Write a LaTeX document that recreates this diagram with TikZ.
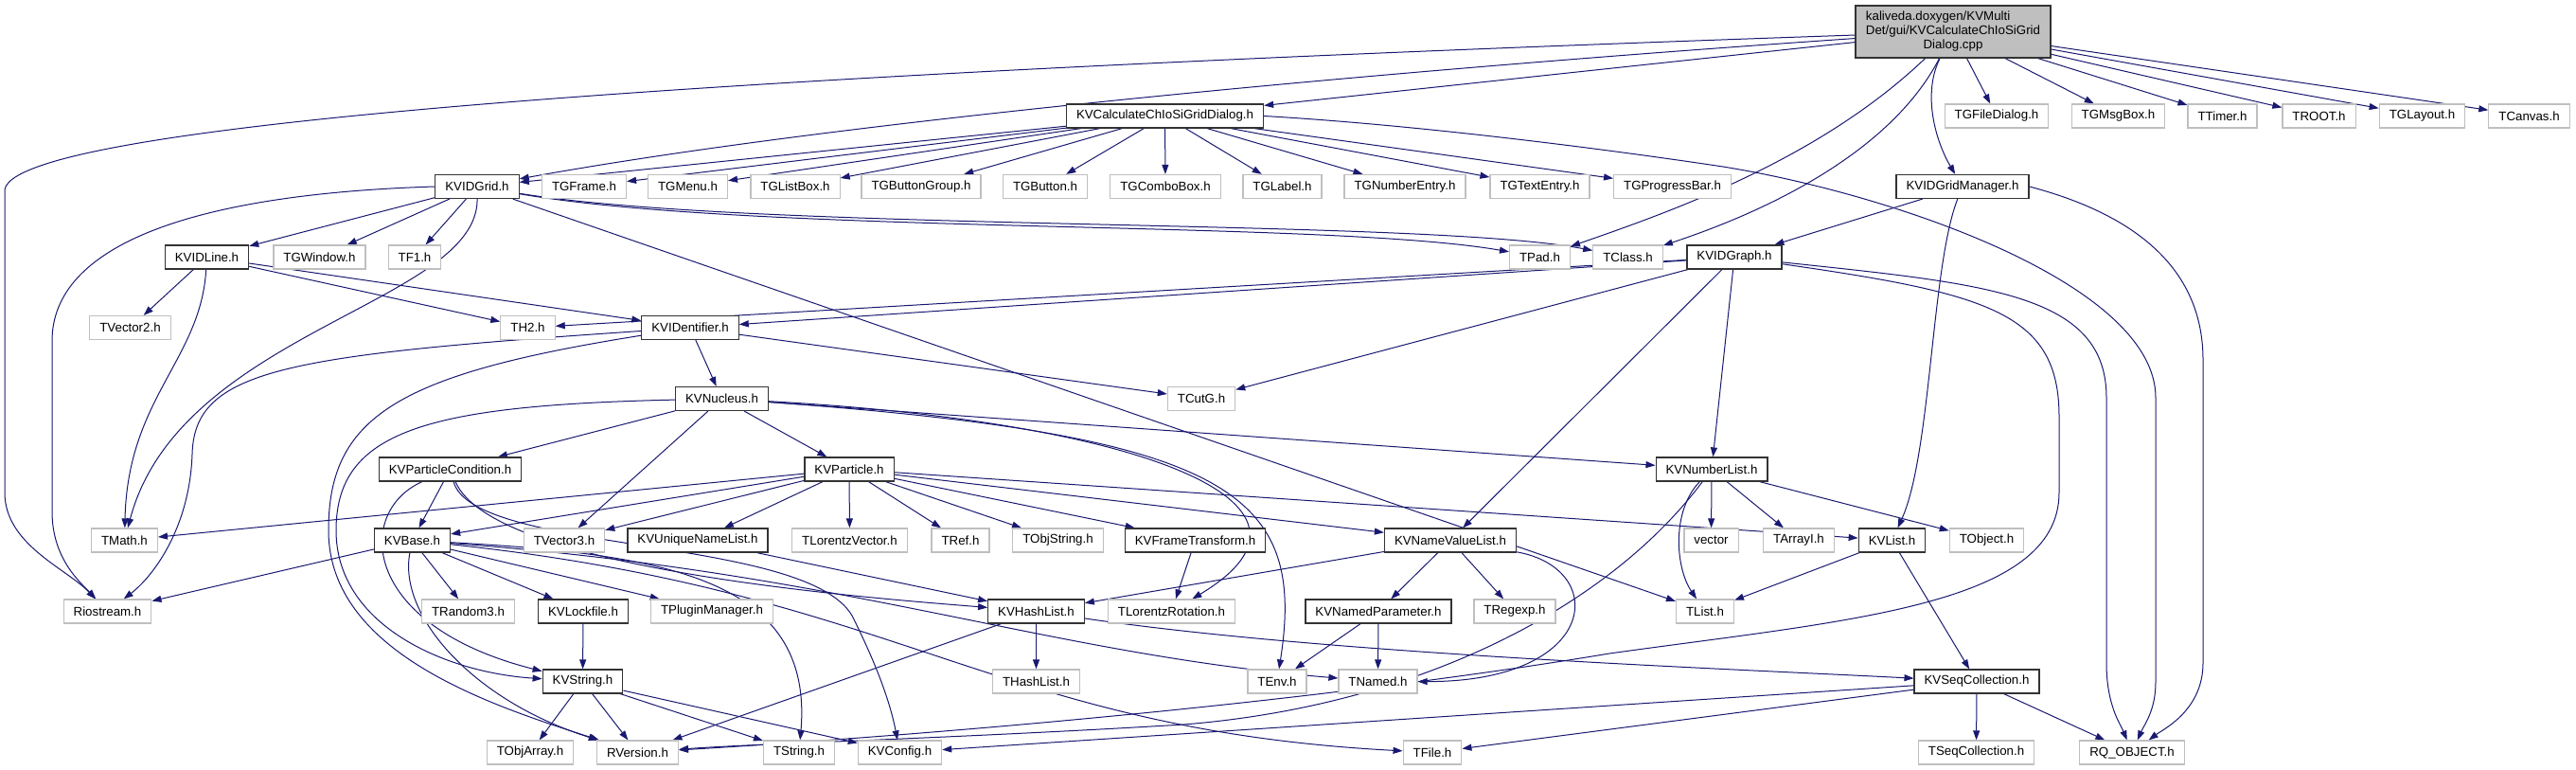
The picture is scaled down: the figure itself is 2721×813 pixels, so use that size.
\documentclass[tikz,border=0pt]{standalone}
\usepackage{fontspec}
\setmainfont{Liberation Sans}
\usetikzlibrary{arrows.meta,backgrounds}
\definecolor{edgeblue}{RGB}{25,25,112}
\definecolor{extgray}{RGB}{191,191,191}
\begin{document}
\begin{tikzpicture}[x=1pt,y=-1pt,>={Triangle[length=10pt,width=7pt]},
  every node/.style={font=\fontsize{13.3}{15}\selectfont,minimum height=25pt,
    inner xsep=10.5pt,inner ysep=0pt,line width=1.2pt,fill=white},
  kv/.style={draw=black!80},
  ext/.style={draw=extgray},
  dep/.style={->,draw=edgeblue,line width=1pt}]
  \useasboundingbox (0,0) rectangle (2721,813);
  % file and first level
  \node[kv,fill=extgray,minimum width=206pt,minimum height=55pt] (root) at (2063,33.5)
    {\begin{tabular}{@{}l@{}}kaliveda.doxygen/KVMulti\\Det/gui/KVCalculateChIoSiGrid\\\multicolumn{1}{@{}c@{}}{Dialog.cpp}\end{tabular}};
  \node[kv] (dialog) at (1230.5,122.5) {KVCalculateChIoSiGridDialog.h};
  \node[ext] (fdlg) at (2109,122.5) {TGFileDialog.h};
  \node[ext] (msgbox) at (2237.5,122.5) {TGMsgBox.h};
  \node[ext] (timer) at (2347.5,122.5) {TTimer.h};
  \node[ext] (troot) at (2449.5,122.5) {TROOT.h};
  \node[ext] (layout) at (2558.5,122.5) {TGLayout.h};
  \node[ext] (canvas) at (2671.5,122.5) {TCanvas.h};
  % second level
  \node[kv] (grid) at (504,197) {KVIDGrid.h};
  \node[ext] (frame) at (617,197) {TGFrame.h};
  \node[ext] (menu) at (726.5,197) {TGMenu.h};
  \node[ext] (listbox) at (840,197) {TGListBox.h};
  \node[ext] (btngrp) at (973,197) {TGButtonGroup.h};
  \node[ext] (button) at (1104,197) {TGButton.h};
  \node[ext] (combo) at (1231,197) {TGComboBox.h};
  \node[ext] (label) at (1354.5,197) {TGLabel.h};
  \node[ext] (numentry) at (1484,197) {TGNumberEntry.h};
  \node[ext] (textentry) at (1626.5,197) {TGTextEntry.h};
  \node[ext] (progress) at (1766.5,197) {TGProgressBar.h};
  \node[kv] (gridmgr) at (2073,197) {KVIDGridManager.h};
  \node[kv] (idline) at (218.5,271.5) {KVIDLine.h};
  \node[ext] (window) at (337.5,271.5) {TGWindow.h};
  \node[ext] (tfone) at (438,271.5) {TF1.h};
  \node[ext] (tpad) at (1626.5,271.5) {TPad.h};
  \node[ext] (tclass) at (1719.5,271.5) {TClass.h};
  \node[kv] (idgraph) at (1832,271.5) {KVIDGraph.h};
  \node[ext] (tvectwo) at (137.5,346) {TVector2.h};
  \node[ext] (thtwo) at (557.5,346) {TH2.h};
  \node[kv] (identifier) at (729,346) {KVIDentifier.h};
  \node[kv] (nucleus) at (762.5,421) {KVNucleus.h};
  \node[ext] (tcutg) at (1269,421) {TCutG.h};
  % particles and lists
  \node[kv] (pcond) at (475.5,495.5) {KVParticleCondition.h};
  \node[kv] (particle) at (897,495.5) {KVParticle.h};
  \node[kv] (numlist) at (1808,495.5) {KVNumberList.h};
  \node[ext] (tmath) at (131.5,570.5) {TMath.h};
  \node[kv] (kvbase) at (435.5,570.5) {KVBase.h};
  \node[ext] (tvecthree) at (596,570.5) {TVector3.h};
  \node[kv] (uniq) at (737,570.5) {KVUniqueNameList.h};
  \node[ext] (tlvec) at (897.5,570.5) {TLorentzVector.h};
  \node[ext] (tref) at (1014.5,570.5) {TRef.h};
  \node[ext] (tobjstr) at (1117.5,570.5) {TObjString.h};
  \node[kv] (frametr) at (1262.5,570.5) {KVFrameTransform.h};
  \node[kv] (namevalue) at (1532,570.5) {KVNameValueList.h};
  \node[ext] (vector) at (1807.5,570.5) {vector};
  \node[ext] (tarrayi) at (1900,570.5) {TArrayI.h};
  \node[kv] (kvlist) at (1998.5,570.5) {KVList.h};
  \node[ext] (tobject) at (2098.5,570.5) {TObject.h};
  \node[ext] (riostream) at (113.5,645.5) {Riostream.h};
  \node[ext] (trandom) at (494.5,645.5) {TRandom3.h};
  \node[kv] (lockfile) at (616,645.5) {KVLockfile.h};
  \node[ext] (plugin) at (752,645.5) {TPluginManager.h};
  \node[kv] (hashlist) at (1094.5,645.5) {KVHashList.h};
  \node[ext] (lrot) at (1237.5,645.5) {TLorentzRotation.h};
  \node[kv] (namedpar) at (1456,645.5) {KVNamedParameter.h};
  \node[ext] (tregexp) at (1600,645.5) {TRegexp.h};
  \node[ext] (tlist) at (1801,645.5) {TList.h};
  \node[kv] (kvstring) at (615.5,719.5) {KVString.h};
  \node[ext] (thashlist) at (1094.5,719.5) {THashList.h};
  \node[ext] (tenv) at (1349,719.5) {TEnv.h};
  \node[ext] (tnamed) at (1455.5,719.5) {TNamed.h};
  \node[kv] (seqcoll) at (2088,719.5) {KVSeqCollection.h};
  \node[ext] (tobjarray) at (560,794.5) {TObjArray.h};
  \node[ext] (rversion) at (673.5,794.5) {RVersion.h};
  \node[ext] (tstring) at (844,794.5) {TString.h};
  \node[ext] (kvconfig) at (950.5,794.5) {KVConfig.h};
  \node[ext] (tfile) at (1513,794.5) {TFile.h};
  \node[ext] (tseqcoll) at (2087.5,794.5) {TSeqCollection.h};
  \node[ext] (rqobject) at (2252,794.5) {RQ\_OBJECT.h};
  \begin{scope}[on background layer]
  % from the .cpp file
  \draw[dep] (root) .. controls (1000,70) and (20,120) .. (5,200) -- (5,520) .. controls (5,575) and (70,600) .. (riostream);
  \draw[dep] (root) -- (dialog);
  \draw[dep] (root) .. controls (1500,72) and (900,125) .. (grid);
  \draw[dep] (root) .. controls (1920,170) and (1760,225) .. (tpad);
  \draw[dep] (root) .. controls (1990,175) and (1830,235) .. (tclass);
  \draw[dep] (root) .. controls (2030,100) and (2045,150) .. (gridmgr);
  \draw[dep] (root) -- (fdlg);
  \draw[dep] (root) -- (msgbox);
  \draw[dep] (root) -- (timer);
  \draw[dep] (root) -- (troot);
  \draw[dep] (root) -- (layout);
  \draw[dep] (root) -- (canvas);
  % dialog header
  \draw[dep] (dialog) -- (grid);
  \draw[dep] (dialog) -- (frame);
  \draw[dep] (dialog) -- (menu);
  \draw[dep] (dialog) -- (listbox);
  \draw[dep] (dialog) -- (btngrp);
  \draw[dep] (dialog) -- (button);
  \draw[dep] (dialog) -- (combo);
  \draw[dep] (dialog) -- (label);
  \draw[dep] (dialog) -- (numentry);
  \draw[dep] (dialog) -- (textentry);
  \draw[dep] (dialog) -- (progress);
  \draw[dep] (dialog.east) .. controls (1500,132) and (1700,158) .. (1820,176) .. controls (2000,205) and (2277,300) .. (2277,420) -- (2277,720) .. controls (2277,750) and (2265,765) .. (rqobject);
  % grid manager
  \draw[dep] (gridmgr) -- (idgraph);
  \draw[dep] (gridmgr) .. controls (2040,280) and (2040,480) .. (kvlist);
  \draw[dep] (gridmgr.east) .. controls (2250,225) and (2327,280) .. (2327,380) -- (2327,700) .. controls (2327,750) and (2285,770) .. (rqobject);
  % grid
  \draw[dep] (grid) -- (idline);
  \draw[dep] (grid) -- (window);
  \draw[dep] (grid) -- (tfone);
  \draw[dep] (grid) .. controls (505,320) and (190,350) .. (tmath);
  \draw[dep] (grid.west) .. controls (200,205) and (55,260) .. (55,360) -- (55,540) .. controls (55,590) and (85,615) .. (riostream);
  \draw[dep] (grid) .. controls (800,248) and (1400,232) .. (tpad);
  \draw[dep] (grid) .. controls (800,245) and (1500,230) .. (tclass);
  \draw[dep] (grid) -- (tlist);
  % line
  \draw[dep] (idline) -- (tvectwo);
  \draw[dep] (idline) .. controls (212,380) and (135,420) .. (tmath);
  \draw[dep] (idline) -- (thtwo);
  \draw[dep] (idline) -- (identifier);
  % identifier
  \draw[dep] (identifier) -- (nucleus);
  \draw[dep] (identifier) -- (tcutg);
  \draw[dep] (identifier) .. controls (300,375) and (205,390) .. (203,480) .. controls (200,560) and (160,610) .. (riostream);
  \draw[dep] (identifier) .. controls (420,395) and (347,440) .. (347,560) .. controls (347,690) and (520,745) .. (rversion);
  % graph
  \draw[dep] (idgraph) -- (thtwo);
  \draw[dep] (idgraph) -- (identifier);
  \draw[dep] (idgraph) -- (tcutg);
  \draw[dep] (idgraph) -- (namevalue);
  \draw[dep] (idgraph) -- (numlist);
  \draw[dep] (idgraph) .. controls (2100,300) and (2225,310) .. (2225,420) -- (2225,700) .. controls (2225,745) and (2240,765) .. (rqobject);
  \draw[dep] (idgraph) .. controls (2100,310) and (2175,330) .. (2175,440) -- (2175,520) .. controls (2175,640) and (1950,655) .. (1700,690) .. controls (1400,740) and (1000,775) .. (rversion);
  % nucleus
  \draw[dep] (nucleus) -- (pcond);
  \draw[dep] (nucleus) -- (tvecthree);
  \draw[dep] (nucleus) -- (particle);
  \draw[dep] (nucleus) -- (numlist);
  \draw[dep] (nucleus) .. controls (450,428) and (355,455) .. (355,560) .. controls (355,660) and (470,710) .. (kvstring);
  \draw[dep] (nucleus) .. controls (1200,445) and (1430,530) .. (lrot);
  \draw[dep] (nucleus) .. controls (1300,460) and (1380,520) .. (tenv);
  % particle condition
  \draw[dep] (pcond) -- (kvbase);
  \draw[dep] (pcond) .. controls (375,540) and (380,660) .. (kvstring);
  \draw[dep] (pcond) .. controls (520,600) and (900,630) .. (hashlist);
  \draw[dep] (pcond) .. controls (500,585) and (850,565) .. (900,650) .. controls (925,700) and (940,740) .. (kvconfig);
  % particle
  \draw[dep] (particle) -- (tmath);
  \draw[dep] (particle) -- (kvbase);
  \draw[dep] (particle) -- (tvecthree);
  \draw[dep] (particle) -- (uniq);
  \draw[dep] (particle) -- (tlvec);
  \draw[dep] (particle) -- (tref);
  \draw[dep] (particle) -- (tobjstr);
  \draw[dep] (particle) -- (frametr);
  \draw[dep] (particle) -- (namevalue);
  \draw[dep] (particle) -- (kvlist);
  \draw[dep] (uniq) -- (hashlist);
  \draw[dep] (frametr) -- (lrot);
  % name-value list
  \draw[dep] (namevalue) -- (namedpar);
  \draw[dep] (namevalue) -- (tregexp);
  \draw[dep] (namevalue) .. controls (1700,600) and (1690,720) .. (tnamed);
  \draw[dep] (namevalue) -- (hashlist);
  \draw[dep] (namedpar) -- (tenv);
  \draw[dep] (namedpar) -- (tnamed);
  % number list and lists
  \draw[dep] (numlist) -- (vector);
  \draw[dep] (numlist) -- (tarrayi);
  \draw[dep] (numlist) -- (tobject);
  \draw[dep] (numlist) .. controls (1765,540) and (1770,600) .. (tlist);
  \draw[dep] (numlist) .. controls (1700,640) and (1500,745) .. (1250,765) .. controls (1000,780) and (800,785) .. (rversion);
  \draw[dep] (kvlist) -- (tlist);
  \draw[dep] (kvlist) -- (seqcoll);
  % base
  \draw[dep] (kvbase) -- (riostream);
  \draw[dep] (kvbase) -- (trandom);
  \draw[dep] (kvbase) -- (lockfile);
  \draw[dep] (kvbase) -- (plugin);
  \draw[dep] (kvbase) .. controls (420,650) and (500,740) .. (rversion);
  \draw[dep] (kvbase) .. controls (700,585) and (860,610) .. (tstring);
  \draw[dep] (kvbase) .. controls (900,605) and (1100,690) .. (tnamed);
  \draw[dep] (kvbase) .. controls (950,625) and (1050,770) .. (tfile);
  \draw[dep] (lockfile) -- (kvstring);
  % strings and collections
  \draw[dep] (kvstring) -- (tobjarray);
  \draw[dep] (kvstring) -- (rversion);
  \draw[dep] (kvstring) -- (tstring);
  \draw[dep] (kvstring) -- (kvconfig);
  \draw[dep] (hashlist) -- (thashlist);
  \draw[dep] (hashlist) -- (rversion);
  \draw[dep] (hashlist) .. controls (1400,690) and (1800,705) .. (seqcoll);
  \draw[dep] (seqcoll) -- (tseqcoll);
  \draw[dep] (seqcoll) -- (rqobject);
  \draw[dep] (seqcoll) -- (kvconfig);
  \draw[dep] (seqcoll) -- (tfile);
  \end{scope}
\end{tikzpicture}
\end{document}
